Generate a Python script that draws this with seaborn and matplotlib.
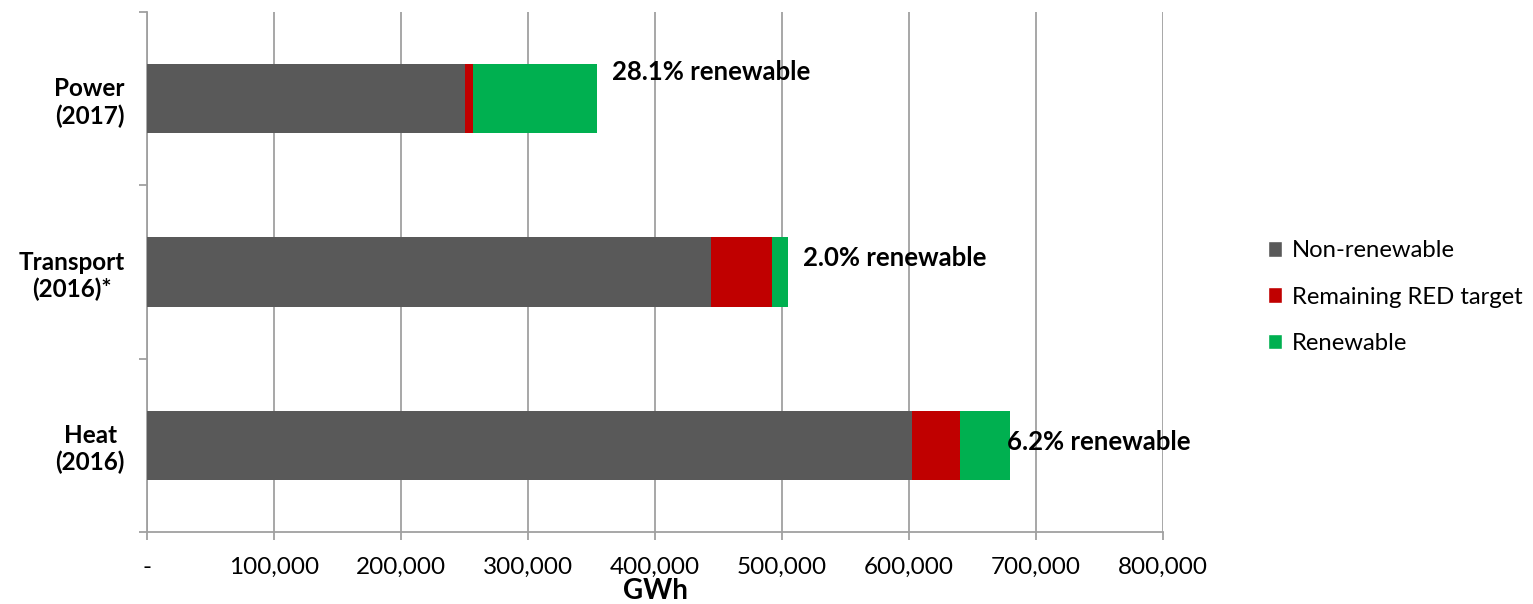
import pandas as pd
import seaborn as sns
import matplotlib.pyplot as plt
from matplotlib.patches import Patch
from matplotlib.ticker import FuncFormatter

# Data (GWh)
sectors = ['Power\n(2017)', 'Transport\n(2016)*', 'Heat\n(2016)']
non_renewable = [250400, 444000, 602600]
remaining_red = [6300, 48000, 37600]
renewable = [97600, 12600, 39300]
share_labels = ['28.1% renewable', '2.0% renewable', '6.2% renewable']

df = pd.DataFrame({
    'Sector': sectors,
    'Non-renewable': non_renewable,
    'Remaining RED target': remaining_red,
    'Renewable': renewable,
})
df['cum_red'] = df['Non-renewable'] + df['Remaining RED target']
df['cum_total'] = df['cum_red'] + df['Renewable']

colors = {'Non-renewable': '#595959', 'Remaining RED target': '#C00000', 'Renewable': '#00B050'}

sns.set_style('white')
plt.rcParams['font.family'] = ['Lato', 'DejaVu Sans']
plt.rcParams['text.color'] = 'black'
plt.rcParams['xtick.labelcolor'] = 'black'
plt.rcParams['ytick.labelcolor'] = 'black'
plt.rcParams['axes.labelcolor'] = 'black'

fig = plt.figure(figsize=(15.33, 6.04), dpi=100)
ax = fig.add_axes([147 / 1533, 1 - 532 / 604, (1163 - 147) / 1533, 520 / 604])

# stacked bars: draw cumulative totals from largest to smallest
sns.barplot(data=df, y='Sector', x='cum_total', color=colors['Renewable'], width=0.4,
            orient='h', ax=ax, saturation=1, zorder=3, edgecolor='none')
sns.barplot(data=df, y='Sector', x='cum_red', color=colors['Remaining RED target'], width=0.4,
            orient='h', ax=ax, saturation=1, zorder=3, edgecolor='none')
sns.barplot(data=df, y='Sector', x='Non-renewable', color=colors['Non-renewable'], width=0.4,
            orient='h', ax=ax, saturation=1, zorder=3, edgecolor='none')

# share annotations
label_x = [366000, 516500, 677000]
label_dy = [-0.156, -0.08, -0.02]
for i, txt in enumerate(share_labels):
    ax.text(label_x[i], i + label_dy[i], txt, fontsize=18.5, fontweight='bold',
            va='center', ha='left', zorder=5)

ax.set_xlim(0, 800000)
ax.set_ylim(2.5, -0.5)
ax.set_xticks(range(0, 800001, 100000))
ax.xaxis.set_major_formatter(FuncFormatter(lambda v, p: '-' if v == 0 else f'{int(v):,}'))
ax.tick_params(axis='x', bottom=True, labelsize=17.5, length=6, color='#A0A0A0', width=1.3, pad=12)

# category boundary ticks on y
ax.set_yticks([-0.5, 0.5, 1.5, 2.5], minor=True)
ax.tick_params(axis='y', which='minor', left=True, length=6, color='#A0A0A0', width=1.3)
ax.tick_params(axis='y', which='major', length=0, labelsize=17.5, pad=16)
for lab in ax.get_yticklabels():
    lab.set_fontweight('bold')
    lab.set_horizontalalignment('right')
    lab.set_multialignment('center')

ax.grid(axis='x', color='#A0A0A0', linewidth=1.3, zorder=0)
ax.set_axisbelow(True)
for side in ['top', 'right']:
    ax.spines[side].set_visible(False)
for side in ['left', 'bottom']:
    ax.spines[side].set_color('#A0A0A0')
    ax.spines[side].set_linewidth(1.3)

ax.set_ylabel('')
ax.set_xlabel('GWh', fontsize=20, fontweight='bold', labelpad=0)

handles = [Patch(facecolor=colors[k], label=k) for k in colors]
fig.legend(handles=handles, loc='center left', bbox_to_anchor=(1268 / 1533, 1 - 297 / 604),
           frameon=False, fontsize=17.2, handlelength=0.6, handleheight=0.6,
           handletextpad=0.4, labelspacing=1.05, borderaxespad=0, borderpad=0)

fig.savefig('out.png', dpi=100)
